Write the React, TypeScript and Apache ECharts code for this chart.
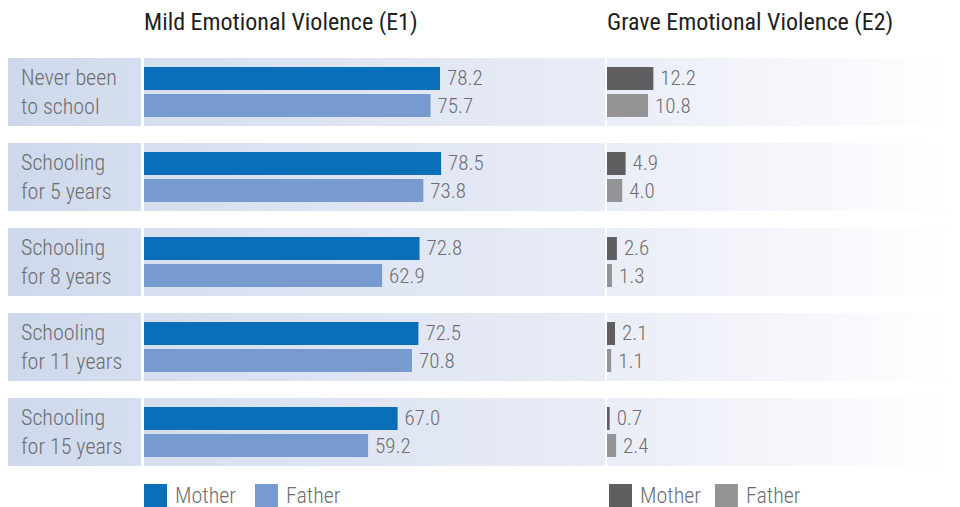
import React, { useEffect, useRef } from "react";
import * as echarts from "echarts";

const categories = [
  "Never been\nto school",
  "Schooling\nfor 5 years",
  "Schooling\nfor 8 years",
  "Schooling\nfor 11 years",
  "Schooling\nfor 15 years",
];
const e1Mother = [78.2, 78.5, 72.8, 72.5, 67.0];
const e1Father = [75.7, 73.8, 62.9, 70.8, 59.2];
const e2Mother = [12.2, 4.9, 2.6, 2.1, 0.7];
const e2Father = [10.8, 4.0, 1.3, 1.1, 2.4];
const titles = ["Mild Emotional Violence (E1)", "Grave Emotional Violence (E2)"];
const legendNames = ["Mother", "Father"];

const FONT = "'Roboto Condensed', 'Liberation Sans Narrow', Roboto, sans-serif";
const TEXT_GRAY = "#6d6e71";
const LIGHT = 300;

export default function App() {
  const ref = useRef<HTMLDivElement>(null);
  useEffect(() => {
    if (!ref.current) return;
    const chart = echarts.init(ref.current, undefined, { renderer: "svg" });

    const rowTop = 58;
    const rowPitch = 85;
    const rowH = 68;
    const graphics: any[] = [];
    categories.forEach((_, i) => {
      const y = rowTop + rowPitch * i;
      graphics.push({
        type: "rect", z: -10, silent: true,
        shape: { x: 8, y, width: 133, height: rowH },
        style: { fill: new echarts.graphic.LinearGradient(0, 0, 1, 0, [
          { offset: 0, color: "#cdd8eb" }, { offset: 1, color: "#d6dfef" }]) },
      });
      graphics.push({
        type: "rect", z: -10, silent: true,
        shape: { x: 144, y, width: 461, height: rowH },
        style: { fill: new echarts.graphic.LinearGradient(0, 0, 1, 0, [
          { offset: 0, color: "#d6deef" }, { offset: 1, color: "#e8ecf6" }]) },
      });
      graphics.push({
        type: "rect", z: -10, silent: true,
        shape: { x: 607, y, width: 353, height: rowH },
        style: { fill: new echarts.graphic.LinearGradient(0, 0, 1, 0, [
          { offset: 0, color: "#e9edf6" }, { offset: 1, color: "#ffffff" }]) },
      });
    });

    const valueLabel = {
      show: true,
      position: "right",
      distance: 7,
      fontFamily: FONT,
      fontWeight: LIGHT,
      fontSize: 21,
      color: TEXT_GRAY,
      formatter: (p: any) => Number(p.value).toFixed(1),
    };

    const barCommon = {
      type: "bar",
      barWidth: 23,
      barGap: "17.4%",
      label: valueLabel,
      z: 3,
    };

    const titleStyle = { fontFamily: FONT, fontSize: 24, fontWeight: "normal", color: "#231f20" };
    const legendText = { fontFamily: FONT, fontWeight: LIGHT, fontSize: 22, color: TEXT_GRAY, padding: [0, 0, 0, 3] };

    chart.setOption({
      animation: false,
      textStyle: { fontFamily: FONT },
      title: [
        { text: titles[0], left: 144, top: 10, padding: 0, textStyle: titleStyle },
        { text: titles[1], left: 607, top: 10, padding: 0, textStyle: titleStyle },
      ],
      legend: [
        {
          left: 144, top: 484, padding: 0, itemWidth: 23, itemHeight: 23, itemGap: 19,
          icon: "rect",
          data: legendNames,
          textStyle: legendText,
          selectedMode: false,
        },
        {
          left: 609, top: 484, padding: 0, itemWidth: 23, itemHeight: 23, itemGap: 14,
          icon: "rect",
          data: legendNames.map((n) => n + " (E2)"),
          formatter: (n: string) => n.replace(" (E2)", ""),
          textStyle: legendText,
          selectedMode: false,
        },
      ],
      grid: [
        { left: 144, top: 49.5, width: 378.5, height: 425 },
        { left: 607, top: 49.5, width: 190, height: 425 },
      ],
      xAxis: [
        { gridIndex: 0, type: "value", min: 0, max: 100, show: false },
        { gridIndex: 1, type: "value", min: 0, max: 50, show: false },
      ],
      yAxis: [
        {
          gridIndex: 0, type: "category", inverse: true, data: categories,
          axisLine: { show: false }, axisTick: { show: false }, splitLine: { show: false },
          axisLabel: { align: "left", margin: 123, fontFamily: FONT, fontWeight: LIGHT, fontSize: 22, lineHeight: 29, color: TEXT_GRAY },
        },
        {
          gridIndex: 1, type: "category", inverse: true, data: categories,
          axisLine: { show: false }, axisTick: { show: false }, splitLine: { show: false },
          axisLabel: { show: false },
        },
      ],
      graphic: graphics,
      series: [
        { ...barCommon, name: legendNames[0], xAxisIndex: 0, yAxisIndex: 0, data: e1Mother, itemStyle: { color: "#0a6eb8" } },
        { ...barCommon, name: legendNames[1], xAxisIndex: 0, yAxisIndex: 0, data: e1Father, itemStyle: { color: "#779acf" } },
        { ...barCommon, name: legendNames[0] + " (E2)", xAxisIndex: 1, yAxisIndex: 1, data: e2Mother, itemStyle: { color: "#5f5f61" } },
        { ...barCommon, name: legendNames[1] + " (E2)", xAxisIndex: 1, yAxisIndex: 1, data: e2Father, itemStyle: { color: "#949496" } },
      ],
    });
    return () => chart.dispose();
  }, []);
  return (
    <div
      ref={ref}
      style={{ position: "fixed", left: 0, top: 0, width: 960, height: 507, background: "#ffffff" }}
    />
  );
}
